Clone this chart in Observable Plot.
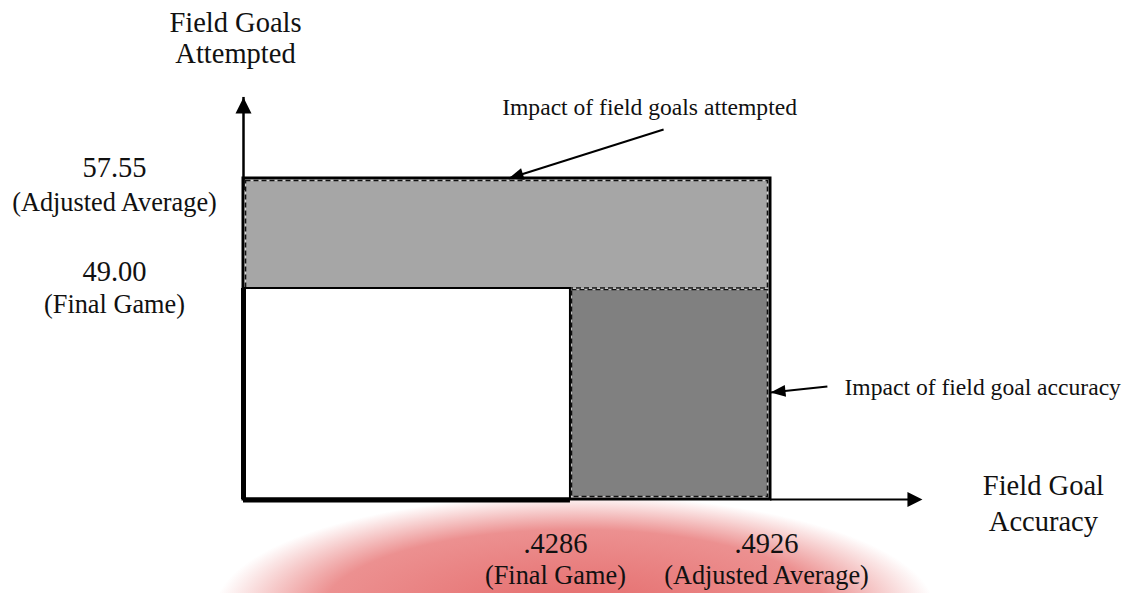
<!DOCTYPE html>
<html>
<head>
<meta charset="utf-8">
<script src="https://cdn.jsdelivr.net/npm/d3@7"></script>
<script src="https://cdn.jsdelivr.net/npm/@observablehq/plot@0.6"></script>
<style>
  html, body { margin: 0; padding: 0; background: #ffffff; }
  #chart {
    width: 1133px; height: 593px; position: relative;
    background:
      radial-gradient(ellipse 360px 115px at 575px 610px,
        rgba(222, 70, 70, 0.80) 0%, rgba(226, 85, 85, 0.65) 70%, rgba(255, 255, 255, 0) 100%);
  }
</style>
</head>
<body>
<div id="chart"></div>
<script>
// ---- data ----
const scenarios = ["(Final Game)", "(Adjusted Average)"];
const accuracy = [0.4286, 0.4926];          // field goal accuracy
const accuracyLabels = [".4286", ".4926"];
const attempts = [49.00, 57.55];            // field goals attempted
const attemptLabels = ["49.00", "57.55"];
const axisStart = [0.324, 32.6];            // [accuracy, attempts] at the diagram's origin
const axisEnd = [0.5412, 63.85];            // [accuracy, attempts] at the arrow tips
const axisTitles = ["Field Goals\nAttempted", "Field Goal\nAccuracy"];
const annotationText = ["Impact of field goals attempted", "Impact of field goal accuracy"];
const annotationTip = [[0.4088, 57.55], [0.4926, 40.92]];
const annotationTail = [[0.4584, 61.36], [0.5108, 41.38]];

// ---- scales ----
const xOpts = {type: "linear", domain: [axisStart[0], accuracy[1]], range: [243, 770]};
const yOpts = {type: "linear", domain: [axisStart[1], attempts[1]], range: [499, 178]};
const sx = Plot.scale({x: xOpts});
const sy = Plot.scale({y: yOpts});

const font = "'Liberation Serif', 'Times New Roman', serif";

function head(angle, len, half) {
  const c = Math.cos(angle), s = Math.sin(angle);
  return {
    draw(ctx) {
      const bx = -len * c, by = -len * s;
      const px = -s * half, py = c * half;
      ctx.moveTo(0, 0);
      ctx.lineTo(bx + px, by + py);
      ctx.lineTo(bx - px, by - py);
      ctx.closePath();
    }
  };
}

const marks = [];

// light gray band: impact of attempts
marks.push(Plot.rect([0], {
  x1: axisStart[0], x2: accuracy[1], y1: attempts[0], y2: attempts[1],
  fill: "#a6a6a6", stroke: "#111", strokeWidth: 1.6, strokeDasharray: "5,3",
  insetLeft: 2.5, insetRight: 2.5, insetTop: 2.5, insetBottom: 0
}));
// dark gray block: impact of accuracy
marks.push(Plot.rect([0], {
  x1: accuracy[0], x2: accuracy[1], y1: axisStart[1], y2: attempts[0],
  fill: "#808080", stroke: "#111", strokeWidth: 1.6, strokeDasharray: "5,3",
  insetLeft: 1.5, insetRight: 2.5, insetTop: 1.5, insetBottom: 2.5
}));
// white block: final game
marks.push(Plot.rect([0], {
  x1: axisStart[0], x2: accuracy[0], y1: axisStart[1], y2: attempts[0],
  fill: "white", stroke: "black", strokeWidth: 2
}));
marks.push(Plot.ruleX([axisStart[0]], {y1: axisStart[1], y2: attempts[0], stroke: "black", strokeWidth: 5}));
marks.push(Plot.ruleY([axisStart[1]], {x1: axisStart[0], x2: accuracy[0], stroke: "black", strokeWidth: 5, dy: 0.5}));
// outer frame: adjusted average
marks.push(Plot.rect([0], {
  x1: axisStart[0], x2: accuracy[1], y1: axisStart[1], y2: attempts[1],
  fill: "none", stroke: "black", strokeWidth: 3
}));

// axes with arrowheads
marks.push(Plot.ruleX([axisStart[0]], {y1: attempts[1], y2: axisEnd[1], stroke: "black", strokeWidth: 2.5, insetTop: 12}));
marks.push(Plot.ruleY([axisStart[1]], {x1: accuracy[1], x2: axisEnd[0], stroke: "black", strokeWidth: 2, insetRight: 10}));
marks.push(Plot.dot([0], {x: axisStart[0], y: axisEnd[1], symbol: head(-Math.PI / 2, 16, 8), fill: "black", stroke: "none"}));
marks.push(Plot.dot([0], {x: axisEnd[0], y: axisStart[1], symbol: head(0, 15, 7.5), fill: "black", stroke: "none"}));

// annotation arrows
annotationText.forEach((t, i) => {
  const [tx, ty] = annotationTip[i];
  const [lx, ly] = annotationTail[i];
  const ang = Math.atan2(sy.apply(ty) - sy.apply(ly), sx.apply(tx) - sx.apply(lx));
  marks.push(Plot.link([0], {x1: lx, y1: ly, x2: tx, y2: ty, stroke: "black", strokeWidth: 2}));
  marks.push(Plot.dot([0], {x: tx, y: ty, symbol: head(ang, 15, 6), fill: "black", stroke: "none"}));
});
marks.push(Plot.text([annotationText[0]], {
  x: annotationTip[0][0], y: annotationTip[0][1], text: d => d,
  dx: 141, dy: -64, textAnchor: "middle", lineAnchor: "bottom",
  fontFamily: font, fontSize: 23.6, fill: "#111"
}));
marks.push(Plot.text([annotationText[1]], {
  x: annotationTip[1][0], y: annotationTip[1][1], text: d => d,
  dx: 74, dy: 3, textAnchor: "start", lineAnchor: "bottom",
  fontFamily: font, fontSize: 23.6, fill: "#111"
}));

// axis titles
marks.push(Plot.text([axisTitles[0]], {
  x: axisStart[0], y: axisEnd[1], text: d => d, dx: -8, dy: -34,
  lineAnchor: "bottom", lineHeight: 1.09, fontFamily: font, fontSize: 28.5, fill: "#111"
}));
marks.push(Plot.text([axisTitles[1]], {
  x: axisEnd[0], y: axisStart[1], text: d => d, dx: 121, dy: 31,
  lineAnchor: "bottom", lineHeight: 1.23, fontFamily: font, fontSize: 28.5, fill: "#111"
}));

// attempt (y) labels
const yNumDy = [-8, -2], ySubDy = [24, 32];
attempts.forEach((v, i) => {
  marks.push(Plot.text([attemptLabels[i]], {x: axisStart[0], y: v, text: d => d, dx: -129, dy: yNumDy[i],
    lineAnchor: "bottom", fontFamily: font, fontSize: 28.5, fill: "#111"}));
  marks.push(Plot.text([scenarios[i]], {x: axisStart[0], y: v, text: d => d, dx: -129, dy: ySubDy[i],
    lineAnchor: "bottom", fontFamily: font, fontSize: 26.3, fill: "#111"}));
});
// accuracy (x) labels
const xDx = [-15, -4];
accuracy.forEach((v, i) => {
  marks.push(Plot.text([accuracyLabels[i]], {x: v, y: axisStart[1], text: d => d, dx: xDx[i], dy: 53,
    lineAnchor: "bottom", fontFamily: font, fontSize: 28.5, fill: "#111"}));
  marks.push(Plot.text([scenarios[i]], {x: v, y: axisStart[1], text: d => d, dx: xDx[i], dy: 84,
    lineAnchor: "bottom", fontFamily: font, fontSize: 26.3, fill: "#111"}));
});

const chart = Plot.plot({
  width: 1133,
  height: 593,
  marginLeft: 243, marginRight: 363, marginTop: 178, marginBottom: 94,
  x: {...xOpts, axis: null},
  y: {...yOpts, axis: null},
  style: {background: "transparent", overflow: "visible"},
  marks
});
document.getElementById("chart").appendChild(chart);
</script>
</body>
</html>
